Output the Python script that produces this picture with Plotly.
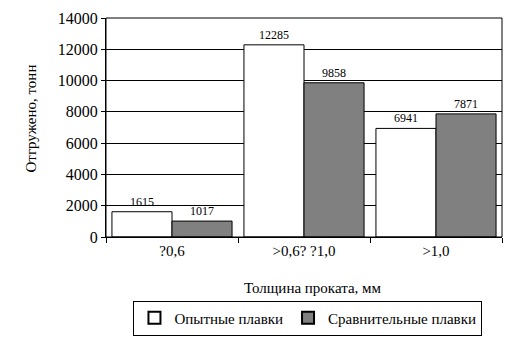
import plotly.graph_objects as go

categories = ["?0,6", ">0,6? ?1,0", ">1,0"]
opytnye = [1615, 12285, 6941]
sravnit = [1017, 9858, 7871]
y_ticks = [0, 2000, 4000, 6000, 8000, 10000, 12000, 14000]

font = "Liberation Serif"

fig = go.Figure()
fig.add_trace(go.Bar(
    x=categories, y=opytnye, name="Опытные плавки",
    marker=dict(color="white", line=dict(color="black", width=1)),
    text=[str(v) for v in opytnye], textposition="outside",
    textfont=dict(family=font, size=12, color="black"), cliponaxis=False,
))
fig.add_trace(go.Bar(
    x=categories, y=sravnit, name="Сравнительные плавки",
    marker=dict(color="#808080", line=dict(color="black", width=1)),
    text=[str(v) for v in sravnit], textposition="outside",
    textfont=dict(family=font, size=12, color="black"), cliponaxis=False,
))

fig.update_layout(
    width=530, height=362,
    margin=dict(l=106, r=28, t=18, b=125, autoexpand=False),
    paper_bgcolor="white", plot_bgcolor="white",
    barmode="group", bargap=0.09, bargroupgap=0,
    font=dict(family=font, size=14, color="black"),
    showlegend=True,
    legend=dict(
        orientation="h", x=0.51, xanchor="center", y=-0.37, yanchor="middle",
        bordercolor="black", borderwidth=1, font=dict(family=font, size=15, color="black"),
        itemsizing="constant", traceorder="normal", itemwidth=30,
    ),
    xaxis=dict(
        showline=True, linecolor="black", linewidth=1, mirror=False,
        ticks="outside", tickcolor="black", ticklen=5, tickson="boundaries",
        showgrid=False, automargin=False,
        tickfont=dict(family=font, size=15, color="black"),
    ),
    yaxis=dict(
        range=[0, 14000], tickvals=y_ticks, ticktext=[str(v) for v in y_ticks],
        showline=True, linecolor="black", linewidth=1,
        ticks="outside", tickcolor="black", ticklen=4, automargin=False,
        showgrid=True, gridcolor="black", gridwidth=1, zeroline=False,
        tickfont=dict(family=font, size=16, color="black"),
    ),
    annotations=[
        dict(text="Отгружено, тонн", xref="paper", yref="paper", x=-0.19, y=0.54,
             textangle=-90, showarrow=False, xanchor="center", yanchor="middle",
             font=dict(family=font, size=15, color="black")),
        dict(text="Толщина проката, мм", xref="paper", yref="paper", x=0.523, y=-0.235,
             showarrow=False, xanchor="center", yanchor="middle",
             font=dict(family=font, size=15, color="black")),
    ],
    shapes=[dict(type="rect", xref="paper", yref="paper", x0=0, x1=1, y0=0, y1=1,
                 line=dict(color="black", width=1), fillcolor="rgba(0,0,0,0)", layer="above")],
)

fig.write_html("out.html", config={"displayModeBar": False},
               post_script="document.body.style.margin='0';")
